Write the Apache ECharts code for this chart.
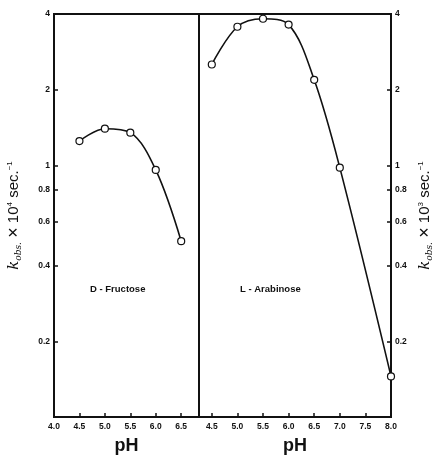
<!DOCTYPE html>
<html>
<head>
<meta charset="utf-8">
<script src="https://cdn.jsdelivr.net/npm/echarts@6/dist/echarts.min.js"></script>
<style>
  html, body { margin: 0; padding: 0; background: #fff; }
  #chart { width: 435px; height: 460px; }
</style>
</head>
<body>
<div id="chart"></div>
<script>
// D-Fructose (left panel, k x 10^4 sec^-1)
const phFructose = [4.5, 5.0, 5.5, 6.0, 6.5]
const kFructose = [1.25, 1.40, 1.35, 0.96, 0.50]
// L-Arabinose (right panel, k x 10^3 sec^-1)
const phArabinose = [4.5, 5.0, 5.5, 6.0, 6.5, 7.0, 8.0]
const kArabinose = [2.52, 3.56, 3.83, 3.63, 2.19, 0.98, 0.145]

const leftPhTicks = [4.0, 4.5, 5.0, 5.5, 6.0, 6.5]
const rightPhTicks = [4.5, 5.0, 5.5, 6.0, 6.5, 7.0, 7.5, 8.0]
const kTicks = [0.2, 0.4, 0.6, 0.8, 1, 2, 4]

const chart = echarts.init(document.getElementById('chart'))

const ink = '#111'
const tickFont = { color: ink, fontSize: 8.5, fontWeight: 'bold', fontFamily: 'Liberation Sans' }
const nameRich = {
  k: { fontSize: 15, fontStyle: 'italic', fontFamily: 'DejaVu Serif', color: ink },
  s: { fontSize: 9, fontStyle: 'italic', fontFamily: 'DejaVu Serif', color: ink, verticalAlign: 'bottom', padding: [6, 0, 0, 0] },
  t: { fontSize: 15, fontFamily: 'Liberation Sans', color: ink },
  x: { fontSize: 18, fontFamily: 'Liberation Sans', color: ink },
  sup: { fontSize: 8, fontFamily: 'Liberation Sans', color: ink, padding: [0, 0, 8, 0] }
}
const pairs = (xs, ys) => xs.map((x, i) => [x, ys[i]])

function phAxis (gridIndex, min, max, ticks) {
  return {
    type: 'value',
    gridIndex,
    min,
    max,
    name: 'pH',
    nameLocation: 'middle',
    nameGap: 20,
    nameTextStyle: { fontSize: 18, fontWeight: 'bold', color: ink, fontFamily: 'Liberation Sans' },
    axisLine: { lineStyle: { color: ink, width: 2 } },
    axisTick: { inside: true, length: 4, customValues: ticks, lineStyle: { color: ink, width: 1.5 } },
    axisLabel: { margin: 5, customValues: ticks, formatter: v => v.toFixed(1), ...tickFont },
    splitLine: { show: false }
  }
}

function kAxis (gridIndex, position, power, gap) {
  return {
    type: 'log',
    logBase: 10,
    gridIndex,
    position,
    min: 0.1,
    max: 4,
    name: '{k|k}{s|obs.}{t| }{x|×}{t| 10}{sup|' + power + '}{t| sec.}{sup|−1}',
    nameLocation: 'middle',
    nameRotate: 90,
    nameGap: gap,
    nameTextStyle: { rich: nameRich },
    axisLine: { lineStyle: { color: ink, width: 2 } },
    axisTick: { inside: true, length: 4, customValues: kTicks, lineStyle: { color: ink, width: 1.5 } },
    axisLabel: { margin: 4, customValues: kTicks, formatter: v => String(Number(v.toPrecision(3))), ...tickFont },
    splitLine: { show: false }
  }
}

const curve = {
  type: 'line',
  smooth: 0.35,
  symbol: 'circle',
  symbolSize: 7,
  lineStyle: { color: ink, width: 1.6 },
  itemStyle: { color: '#fff', borderColor: ink, borderWidth: 1.2 },
  emphasis: { disabled: true },
  z: 3
}

chart.setOption({
  animation: false,
  grid: [
    { left: 54, right: 236, top: 14, bottom: 41, show: true, borderColor: ink, borderWidth: 2 },
    { left: 199, right: 43, top: 14, bottom: 41, show: true, borderColor: ink, borderWidth: 2 }
  ],
  xAxis: [
    phAxis(0, 4.0, 6.85, leftPhTicks),
    phAxis(1, 4.25, 8.0, rightPhTicks)
  ],
  yAxis: [
    kAxis(0, 'left', 4, 31),
    kAxis(1, 'right', 3, 25)
  ],
  graphic: [
    { type: 'text', left: 90, top: 284, style: { text: 'D - Fructose', fontSize: 9.5, fontWeight: 'bold', fill: ink, fontFamily: 'Liberation Sans' } },
    { type: 'text', left: 240, top: 284, style: { text: 'L - Arabinose', fontSize: 9.5, fontWeight: 'bold', fill: ink, fontFamily: 'Liberation Sans' } }
  ],
  series: [
    { ...curve, name: 'D-Fructose', xAxisIndex: 0, yAxisIndex: 0, data: pairs(phFructose, kFructose) },
    { ...curve, name: 'L-Arabinose', xAxisIndex: 1, yAxisIndex: 1, data: pairs(phArabinose, kArabinose) }
  ]
})
</script>
</body>
</html>
